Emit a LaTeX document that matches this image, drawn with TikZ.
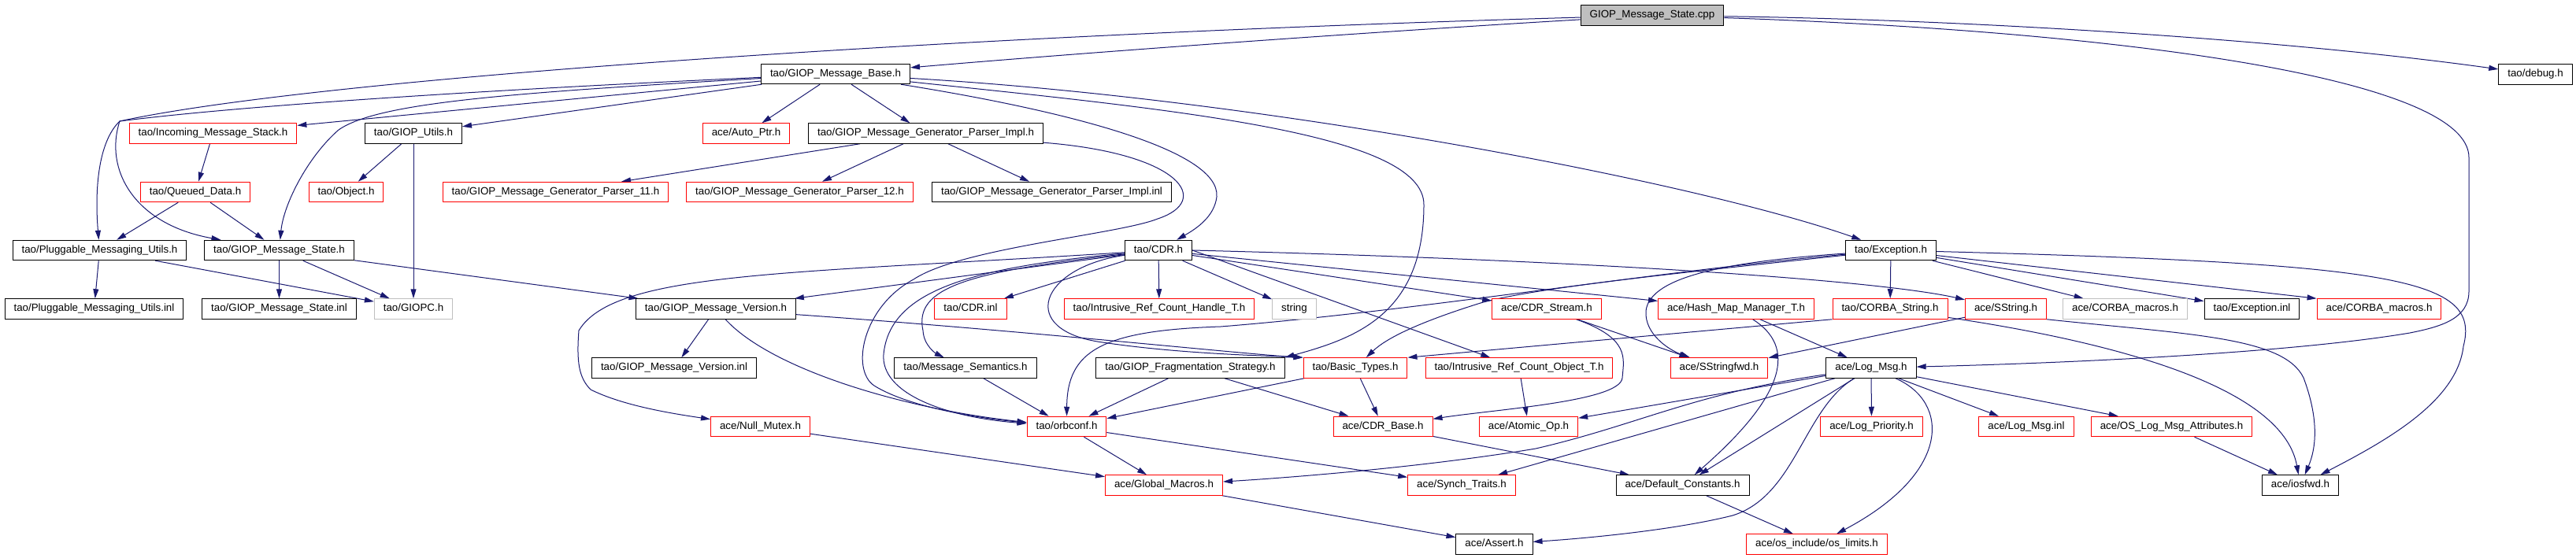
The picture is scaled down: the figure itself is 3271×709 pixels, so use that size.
\documentclass[tikz,border=0pt]{standalone}
\usepackage{fontspec}
\setmainfont{Liberation Sans}
\usepackage{tikz}
\usetikzlibrary{arrows.meta}
\pgfdeclarelayer{bg}
\pgfsetlayers{bg,main}
\definecolor{edgeblue}{HTML}{191970}
\definecolor{boxgray}{HTML}{BFBFBF}

\tikzset{
  hbox/.style={draw=black, fill=white, line width=1pt, inner xsep=11.5pt, inner ysep=0pt,
    minimum height=25.5pt, text height=9.6pt, text depth=2.8pt, font=\fontsize{13.33}{16}\selectfont},
  hred/.style={hbox, draw=red},
  hgray/.style={hbox, draw=boxgray},
  hsrc/.style={hbox, fill=boxgray},
  inc/.style={draw=edgeblue, line width=1pt, -{Triangle[length=12pt,width=7pt]}}
}

\begin{document}
\begin{tikzpicture}[x=1pt,y=-1pt]
    \useasboundingbox (0,0) rectangle (3271,709);

    \node [hsrc] (0) at (2098,19.5) {GIOP\_Message\_State.cpp};
    \node [hbox] (1) at (1061,94) {tao/GIOP\_Message\_Base.h};
    \node [hbox] (2) at (3219.5,94.5) {tao/debug.h};
    \node [hred] (3) at (270.5,169.5) {tao/Incoming\_Message\_Stack.h};
    \node [hbox] (4) at (525,169.5) {tao/GIOP\_Utils.h};
    \node [hred] (5) at (947.5,169.5) {ace/Auto\_Ptr.h};
    \node [hbox] (6) at (1175.5,169.5) {tao/GIOP\_Message\_Generator\_Parser\_Impl.h};
    \node [hred] (7) at (248,244) {tao/Queued\_Data.h};
    \node [hred] (8) at (439.5,244) {tao/Object.h};
    \node [hred] (9) at (705.5,244) {tao/GIOP\_Message\_Generator\_Parser\_11.h};
    \node [hred] (10) at (1015.5,244) {tao/GIOP\_Message\_Generator\_Parser\_12.h};
    \node [hbox] (11) at (1335.5,244) {tao/GIOP\_Message\_Generator\_Parser\_Impl.inl};
    \node [hbox] (12) at (126.5,318) {tao/Pluggable\_Messaging\_Utils.h};
    \node [hbox] (13) at (354.5,318) {tao/GIOP\_Message\_State.h};
    \node [hbox] (14) at (1471,318) {tao/CDR.h};
    \node [hbox] (15) at (2401,318) {tao/Exception.h};
    \node [hbox] (16) at (119.5,392.5) {tao/Pluggable\_Messaging\_Utils.inl};
    \node [hbox] (17) at (354.5,392.5) {tao/GIOP\_Message\_State.inl};
    \node [hgray] (18) at (525,392.5) {tao/GIOPC.h};
    \node [hbox] (19) at (909,392.5) {tao/GIOP\_Message\_Version.h};
    \node [hred] (20) at (1232.5,392.5) {tao/CDR.inl};
    \node [hred] (21) at (1472,392.5) {tao/Intrusive\_Ref\_Count\_Handle\_T.h};
    \node [hgray] (22) at (1643.5,392.5) {string};
    \node [hred] (23) at (1964,392.5) {ace/CDR\_Stream.h};
    \node [hred] (24) at (2204.5,392.5) {ace/Hash\_Map\_Manager\_T.h};
    \node [hred] (25) at (2400,392.5) {tao/CORBA\_String.h};
    \node [hred] (26) at (2547,392.5) {ace/SString.h};
    \node [hgray] (27) at (2698.5,392.5) {ace/CORBA\_macros.h};
    \node [hbox] (28) at (2859.5,392.5) {tao/Exception.inl};
    \node [hred] (29) at (3021,392.5) {ace/CORBA\_macros.h};
    \node [hbox] (30) at (856,467.5) {tao/GIOP\_Message\_Version.inl};
    \node [hbox] (31) at (1226,467.5) {tao/Message\_Semantics.h};
    \node [hbox] (32) at (1511.5,467.5) {tao/GIOP\_Fragmentation\_Strategy.h};
    \node [hred] (33) at (1721,467.5) {tao/Basic\_Types.h};
    \node [hred] (34) at (1929,467.5) {tao/Intrusive\_Ref\_Count\_Object\_T.h};
    \node [hred] (35) at (2183,467.5) {ace/SStringfwd.h};
    \node [hbox] (36) at (2376,467.5) {ace/Log\_Msg.h};
    \node [hred] (37) at (965.5,542) {ace/Null\_Mutex.h};
    \node [hred] (38) at (1354.5,542) {tao/orbconf.h};
    \node [hred] (39) at (1756,542) {ace/CDR\_Base.h};
    \node [hred] (40) at (1941,542) {ace/Atomic\_Op.h};
    \node [hred] (41) at (2376.5,542) {ace/Log\_Priority.h};
    \node [hred] (42) at (2573,542) {ace/Log\_Msg.inl};
    \node [hred] (43) at (2757.5,542) {ace/OS\_Log\_Msg\_Attributes.h};
    \node [hred] (44) at (1478,616.5) {ace/Global\_Macros.h};
    \node [hred] (45) at (1856,616.5) {ace/Synch\_Traits.h};
    \node [hbox] (46) at (2136.5,616.5) {ace/Default\_Constants.h};
    \node [hbox] (47) at (2921,616.5) {ace/iosfwd.h};
    \node [hbox] (48) at (1897.5,691.5) {ace/Assert.h};
    \node [hred] (49) at (2307,691.5) {ace/os\_include/os\_limits.h};

    \begin{pgfonlayer}{bg}    % include edges under the boxes
        \draw [inc] (0) .. controls (1750,40) and (1400,65) .. (1);
        \draw [inc] (0) .. controls (2500,25) and (2900,50) .. (2);
        \draw [inc] (0) .. controls (1200,45) and (400,100) .. (152,154) .. controls (132,215) and (170,285) .. (13);
        \draw [inc] (0) .. controls (2700,40) and (3135,100) .. (3135,200) -- (3135,370)
            .. controls (3135,405) and (3100,415) .. (3060,423) .. controls (2900,450) and (2600,462) .. (36);

        \draw [inc] (1) -- (3);
        \draw [inc] (1) -- (4);
        \draw [inc] (1) .. controls (600,115) and (300,135) .. (152,154) .. controls (125,180) and (120,240) .. (12);
        \draw [inc] (1) .. controls (650,118) and (480,130) .. (430,165) .. controls (390,200) and (360,260) .. (13);
        \draw [inc] (1) -- (5);
        \draw [inc] (1) -- (6);
        \draw [inc] (1) .. controls (1350,140) and (1550,190) .. (1545,250) .. controls (1542,275) and (1520,290) .. (14);
        \draw [inc] (1) .. controls (1600,125) and (2150,230) .. (15);
        \draw [inc] (1) .. controls (1500,140) and (1808,170) .. (1808,260) .. controls (1808,400) and (1720,430) .. (32.north east);

        \draw [inc] (4) -- (8);
        \draw [inc] (4) -- (18);
        \draw [inc] (3) -- (7);
        \draw [inc] (6) -- (9);
        \draw [inc] (6) -- (10);
        \draw [inc] (6) -- (11);
        \draw [inc] (6) .. controls (1500,195) and (1540,255) .. (1470,278) .. controls (1420,298) and (1220,315) .. (1160,355)
            .. controls (1095,390) and (1080,470) .. (1110,490) .. controls (1150,515) and (1230,530) .. (38);
        \draw [inc] (7) -- (12);
        \draw [inc] (7) -- (13);
        \draw [inc] (12) -- (16);
        \draw [inc] (12) -- (18);
        \draw [inc] (13) -- (17);
        \draw [inc] (13) -- (18);
        \draw [inc] (13) -- (19);

        \draw [inc] (14) -- (19);
        \draw [inc] (14) .. controls (1000,348) and (780,345) .. (735,420) .. controls (732,460) and (735,480) .. (750,495)
            .. controls (790,515) and (850,525) .. (37);
        \draw [inc] (14) .. controls (1230,340) and (1130,370) .. (1122,450) .. controls (1118,500) and (1200,530) .. (38);
        \draw [inc] (14) .. controls (1230,345) and (1160,365) .. (1172,420) .. controls (1173,440) and (1190,450) .. (31);
        \draw [inc] (14) -- (20);
        \draw [inc] (14) -- (21);
        \draw [inc] (14) -- (22);
        \draw [inc] (14.east) .. controls (2000,330) and (2380,355) .. (26);
        \draw [inc] (14) -- (24);
        \draw [inc] (14) -- (23);
        \draw [inc] (14.east) -- (34);
        \draw [inc] (14) .. controls (1320,340) and (1290,420) .. (1400,435) .. controls (1500,450) and (1610,452) .. (33.north west);

        \draw [inc] (19) -- (30);
        \draw [inc] (19) .. controls (980,470) and (1150,520) .. (38);
        \draw [inc] (19) .. controls (1300,420) and (1580,450) .. (33.north west);

        \draw [inc] (15) .. controls (2100,345) and (1800,395) .. (1550,415) .. controls (1400,420) and (1355,445) .. (38);
        \draw [inc] (15) .. controls (2150,345) and (1950,365) .. (1880,385) .. controls (1800,410) and (1760,430) .. (33);
        \draw [inc] (15) .. controls (2200,332) and (2095,350) .. (2090,395) .. controls (2088,425) and (2120,445) .. (35);
        \draw [inc] (15) -- (25);
        \draw [inc] (15) -- (27);
        \draw [inc] (15) -- (28);
        \draw [inc] (15) -- (29.north west);
        \draw [inc] (15) .. controls (3050,335) and (3150,355) .. (3128,440) .. controls (3120,510) and (3030,560) .. (47);

        \draw [inc] (26) -- (35);
        \draw [inc] (26.south east) .. controls (2780,425) and (2900,428) .. (2925,480) .. controls (2940,520) and (2945,560) .. (47);
        \draw [inc] (25.south west) -- (33.north east);
        \draw [inc] (25) .. controls (2720,440) and (2900,500) .. (47);
        \draw [inc] (24) -- (36);
        \draw [inc] (24) .. controls (2280,440) and (2270,500) .. (46);
        \draw [inc] (23) -- (35);
        \draw [inc] (23) .. controls (2070,430) and (2062,455) .. (2060,480) .. controls (2058,510) and (1900,520) .. (39);
        \draw [inc] (34) -- (40);
        \draw [inc] (32) -- (38);
        \draw [inc] (32) -- (39);
        \draw [inc] (31) -- (38);
        \draw [inc] (33) -- (38);
        \draw [inc] (33) -- (39);

        \draw [inc] (36) -- (42);
        \draw [inc] (36) -- (43);
        \draw [inc] (36) -- (41);
        \draw [inc] (36) .. controls (2475,510) and (2480,600) .. (49);
        \draw [inc] (36) .. controls (2290,520) and (2280,630) .. (2200,655) .. controls (2120,675) and (2000,685) .. (48);
        \draw [inc] (36) -- (46);
        \draw [inc] (36) -- (45);
        \draw [inc] (36) -- (40);
        \draw [inc] (36) .. controls (2150,500) and (2080,540) .. (1950,570) .. controls (1800,595) and (1620,608) .. (44);

        \draw [inc] (38) -- (44);
        \draw [inc] (38) -- (45);
        \draw [inc] (37) -- (44);
        \draw [inc] (44) -- (48);
        \draw [inc] (39) -- (46);
        \draw [inc] (46) -- (49);
        \draw [inc] (43) -- (47);
    \end{pgfonlayer}

\end{tikzpicture}
\end{document}
